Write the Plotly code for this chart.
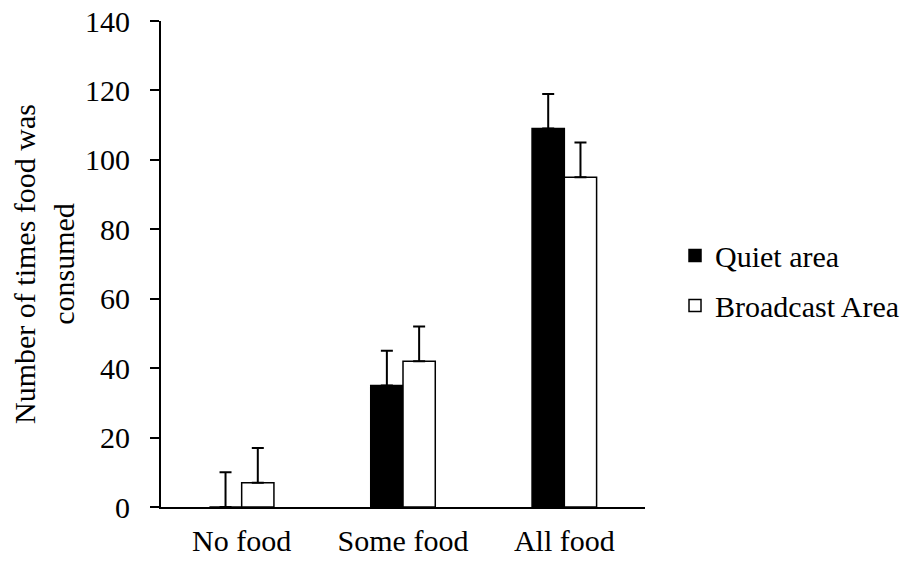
import plotly.graph_objects as go

categories = ["No food", "Some food", "All food"]
quiet_values = [0, 35, 109]
quiet_errors = [10, 10, 10]
broadcast_values = [7, 42, 95]
broadcast_errors = [10, 10, 10]
y_ticks = [0, 20, 40, 60, 80, 100, 120, 140]

FONT = "Liberation Serif, Times New Roman, serif"
FS = 30

fig = go.Figure()
fig.add_trace(go.Bar(
    x=categories, y=quiet_values, name="Quiet area", legendgroup="q",
    marker=dict(color="black", line=dict(color="black", width=1.5)),
    error_y=dict(type="data", array=quiet_errors, symmetric=False,
                 arrayminus=[0, 0, 0], color="black", thickness=2, width=6),
))
fig.add_trace(go.Bar(
    x=categories, y=broadcast_values, name="Broadcast Area", legendgroup="b",
    marker=dict(color="white", line=dict(color="black", width=1.5)),
    error_y=dict(type="data", array=broadcast_errors, symmetric=False,
                 arrayminus=[0, 0, 0], color="black", thickness=2, width=6),
))

# the page body adds an 8px offset, so the figure is 8px smaller
fig.update_layout(
    width=904, height=555,
    margin=dict(l=153, r=267, t=13, b=56, autoexpand=False),
    paper_bgcolor="white", plot_bgcolor="white",
    font=dict(family=FONT, size=FS, color="black"),
    barmode="group", bargap=0.6, bargroupgap=0,
    showlegend=True,
    legend=dict(x=1.062, y=0.466, xanchor="left", yanchor="middle",
                font=dict(family=FONT, size=FS, color="black"),
                itemwidth=30, traceorder="grouped", tracegroupgap=8,
                bgcolor="rgba(0,0,0,0)"),
    xaxis=dict(showline=True, linecolor="black", linewidth=2, ticks="",
               showgrid=False, zeroline=False, ticklabelstandoff=6, automargin=False,
               ticklabeloverflow="allow",
               tickfont=dict(family=FONT, size=FS, color="black")),
    yaxis=dict(range=[0, 140], tickvals=y_ticks, showline=True, linecolor="black",
               linewidth=2, ticks="outside", ticklen=9, tickwidth=2, tickcolor="black",
               showgrid=False, zeroline=False, ticklabelstandoff=14, automargin=False,
               ticklabeloverflow="allow",
               tickfont=dict(family=FONT, size=FS, color="black"),
               title=dict(text="Number of times food was<br>consumed",
                          font=dict(family=FONT, size=FS, color="black"), standoff=16)),
)

fig.write_html("out.html")
